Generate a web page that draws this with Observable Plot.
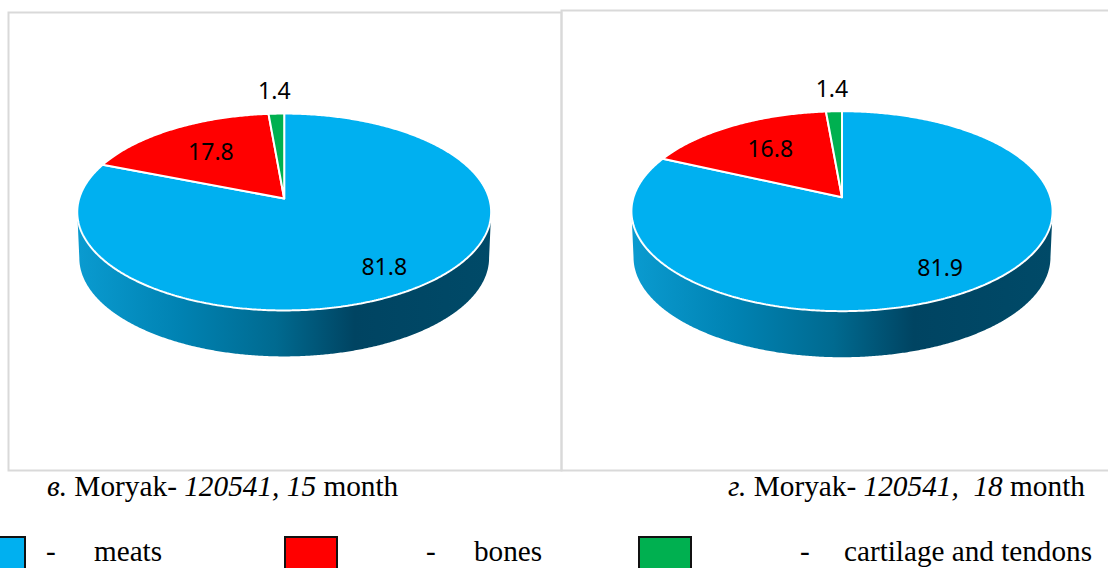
<!DOCTYPE html>
<html>
<head>
<meta charset="utf-8">
<script src="https://cdn.jsdelivr.net/npm/d3@7"></script>
<script src="https://cdn.jsdelivr.net/npm/@observablehq/plot@0.6"></script>
<style>
  html, body { margin: 0; padding: 0; background: #fff; overflow: hidden; width: 1108px; height: 568px; }
  #page { position: relative; width: 1108px; height: 568px; overflow: hidden; }
  .panel { position: absolute; top: 0; }
  .caption, .legend-text {
    position: absolute; font-family: "Liberation Serif", serif; color: #000; white-space: pre; line-height: 1;
  }
  .caption { font-size: 29.3px; top: 472px; }
  .legend-text { font-size: 29.2px; top: 537px; }
  .swatch { position: absolute; top: 536px; height: 60px; box-sizing: border-box; border: 2px solid #111; }
</style>
</head>
<body>
<div id="page"></div>
<script>
// Slice shares, clockwise from twelve o'clock
const categories = ["meats", "bones", "cartilage and tendons"];
const sliceColors = ["#00B0F0", "#FF0000", "#00B050"];
const month15 = [81.8, 17.8, 1.4];
const month18 = [81.9, 16.8, 1.4];
// How far along its mid-angle each label sits, in disc radii
const labelRadii = [0.79, 0.64, 1.3];

const page = document.getElementById("page");

// A tilted disc: the near rim looks larger than the far rim
function project(angle, radius, tilt) {
  const u = radius * Math.sin(angle);
  const v = radius * Math.cos(angle);
  const w = 1 + tilt * v;
  return {px: u / w, py: v / w};
}

function sliceOutline(from, to, tilt) {
  const steps = Math.max(2, Math.ceil((to - from) / 0.01));
  const pts = d3.range(steps + 1).map((i) => project(from + (to - from) * i / steps, 1, tilt));
  const apex = {px: 0, py: 0};
  return [apex, ...pts, apex];
}

function wallOutline(tilt, depth, inner) {
  const start = Math.acos(-tilt);
  const end = 2 * Math.PI - start;
  const angles = d3.range(0, 401).map((i) => start + (end - start) * i / 400);
  const top = angles.map((a) => project(a, 1, tilt));
  const bottom = angles.slice().reverse().map((a) => {
    const p = project(a, 1, tilt);
    return {px: p.px * inner, py: p.py - depth};
  });
  return [...top, ...bottom];
}

function pie({values, id, offset, cx, cy, scaleX, scaleY, tilt, depth, frame}) {
  const total = d3.sum(values);
  const shares = values.map((v) => v / total * 2 * Math.PI);
  let angle = 0;
  const slices = values.map((value, i) => {
    const from = angle;
    angle += shares[i];
    const mid = (from + angle) / 2;
    return {
      value, color: sliceColors[i],
      outline: sliceOutline(from, angle, tilt),
      label: project(mid, labelRadii[i], tilt)
    };
  });

  const gradient = () => {
    const defs = d3.create("svg:defs");
    const g = defs.append("linearGradient").attr("id", id).attr("x1", 0).attr("x2", 1).attr("y1", 0).attr("y2", 0);
    [[0, "#0A9BD0"], [0.25, "#0082B2"], [0.48, "#006A90"], [0.67, "#004462"], [1, "#004A68"]]
      .forEach(([o, c]) => g.append("stop").attr("offset", o).attr("stop-color", c));
    return defs.node();
  };

  return Plot.plot({
    width: frame.width,
    height: 480,
    marginLeft: frame.left,
    marginTop: frame.top,
    marginRight: frame.right,
    marginBottom: 10,
    style: {background: "transparent", overflow: "visible", maxWidth: "none"},
    x: {axis: null, domain: [-1, 1], range: [cx - scaleX - offset, cx + scaleX - offset]},
    y: {axis: null, domain: [-1, 1], range: [cy + scaleY, cy - scaleY]},
    marks: [
      Plot.frame({stroke: "#d9d9d9", strokeWidth: 2}),
      gradient,
      Plot.line(wallOutline(tilt, depth, 0.99), {x: "px", y: "py", fill: `url(#${id})`, stroke: "none"}),
      ...slices.map((s) =>
        Plot.line(s.outline, {x: "px", y: "py", fill: s.color, stroke: "white", strokeWidth: 2, strokeLinejoin: "miter", curve: "linear"})
      ),
      Plot.text(slices, {
        x: (d) => d.label.px, y: (d) => d.label.py, text: (d) => d.value.toFixed(1),
        fontSize: 23, fontFamily: "Noto Sans, sans-serif", fill: "#000"
      })
    ]
  });
}

function addPanel(left, node) {
  const div = document.createElement("div");
  div.className = "panel";
  div.style.left = left + "px";
  div.appendChild(node);
  page.appendChild(div);
}

addPanel(0, pie({
  values: month15, id: "wall-a", offset: 0,
  cx: 283.7, cy: 198, scaleX: 205, scaleY: 96.6, tilt: 0.137, depth: 0.476,
  frame: {width: 562, left: 8, top: 12, right: 1}
}));
addPanel(551, pie({
  values: month18, id: "wall-b", offset: 551,
  cx: 841.5, cy: 196.7, scaleX: 208.5, scaleY: 98, tilt: 0.14, depth: 0.47,
  frame: {width: 620, left: 10, top: 10, right: 10}
}));

// Captions under each chart
const captions = [
  {left: 47, parts: [["в.", true], [" Moryak- ", false], ["120541, 15", true], [" month", false]]},
  {left: 728, parts: [["г.", true], [" Moryak- ", false], ["120541,  18", true], [" month", false]]}
];
for (const c of captions) {
  const el = document.createElement("div");
  el.className = "caption";
  el.style.left = c.left + "px";
  for (const [text, italic] of c.parts) {
    const span = document.createElement("span");
    span.textContent = text;
    if (italic) span.style.fontStyle = "italic";
    el.appendChild(span);
  }
  page.appendChild(el);
}

// Colour key along the bottom edge
const keyLayout = [
  {swatch: -30, width: 56, dash: 46, text: 94},
  {swatch: 284, width: 54, dash: 426, text: 474},
  {swatch: 638, width: 54, dash: 800, text: 844}
];
categories.forEach((name, i) => {
  const k = keyLayout[i];
  const sw = document.createElement("div");
  sw.className = "swatch";
  sw.style.left = k.swatch + "px";
  sw.style.width = k.width + "px";
  sw.style.background = sliceColors[i];
  page.appendChild(sw);
  for (const [text, left] of [["-", k.dash], [name, k.text]]) {
    const t = document.createElement("div");
    t.className = "legend-text";
    t.style.left = left + "px";
    t.textContent = text;
    page.appendChild(t);
  }
});
</script>
</body>
</html>
